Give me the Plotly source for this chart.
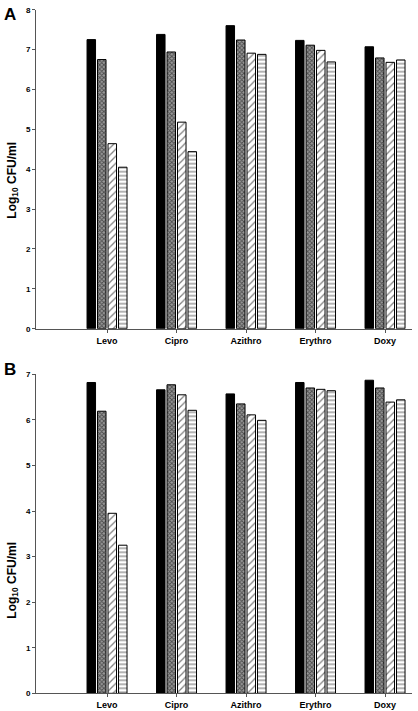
import plotly.graph_objects as go

categories = ["Levo", "Cipro", "Azithro", "Erythro", "Doxy"]
series_names = ["Series 1", "Series 2", "Series 3", "Series 4"]

# Panel A values (Log10 CFU/ml)
a_s1 = [7.25, 7.38, 7.60, 7.23, 7.07]
a_s2 = [6.75, 6.94, 7.24, 7.11, 6.79]
a_s3 = [4.64, 5.18, 6.91, 6.98, 6.68]
a_s4 = [4.05, 4.44, 6.88, 6.69, 6.74]

# Panel B values (Log10 CFU/ml)
b_s1 = [6.82, 6.66, 6.57, 6.82, 6.87]
b_s2 = [6.19, 6.77, 6.35, 6.70, 6.70]
b_s3 = [3.95, 6.55, 6.11, 6.67, 6.39]
b_s4 = [3.25, 6.21, 5.99, 6.64, 6.44]

y_ticks_a = [0, 1, 2, 3, 4, 5, 6, 7, 8]
y_ticks_b = [0, 1, 2, 3, 4, 5, 6, 7]

patterns = [
    None,
    dict(shape="x", size=3, solidity=0.5, fgcolor="black", bgcolor="#999999"),
    dict(shape="/", size=5, solidity=0.25, fgcolor="black", bgcolor="white"),
    dict(shape="-", size=4, solidity=0.3, fgcolor="black", bgcolor="white"),
]
colors = ["black", "#999999", "white", "white"]

fig = go.Figure()
for panel, vals in enumerate([(a_s1, a_s2, a_s3, a_s4), (b_s1, b_s2, b_s3, b_s4)]):
    xax = "x" if panel == 0 else "x2"
    yax = "y" if panel == 0 else "y2"
    for i, v in enumerate(vals):
        marker = dict(color=colors[i], line=dict(color="black", width=1))
        if patterns[i] is not None:
            marker["pattern"] = patterns[i]
        fig.add_trace(go.Bar(
            x=categories, y=v, name=series_names[i],
            xaxis=xax, yaxis=yax, showlegend=False, marker=marker,
        ))

H = 711.0
top_a, bot_a = 9.7, 328.7
top_b, bot_b = 374.3, 693.3
FAM = "Liberation Sans, Arial, sans-serif"

xcommon = dict(type="category", range=[-1.022, 4.388], showline=True, linecolor="#555555",
               linewidth=1, ticks="outside", ticklen=3, tickcolor="#555555",
               tickfont=dict(family=FAM, size=9, color="black", weight="bold"),
               showgrid=False, zeroline=False, fixedrange=True, automargin=False)
ycommon = dict(showline=True, linecolor="#555555", linewidth=1, ticks="outside", ticklen=3,
               tickcolor="#555555", showgrid=False, zeroline=False, automargin=False,
               tickfont=dict(family=FAM, size=8, color="black", weight="bold"))

fig.update_layout(
    width=418, height=711,
    margin=dict(l=36, r=6, t=0, b=0),
    paper_bgcolor="white", plot_bgcolor="white",
    barmode="group", bargap=0.396, bargroupgap=0.19,
    font=dict(family=FAM, size=9, color="black"),
    xaxis=dict(domain=[0, 1], anchor="y", **xcommon),
    yaxis=dict(domain=[(H - bot_a) / H, (H - top_a) / H], anchor="x", range=[0, 8],
               tickvals=y_ticks_a, **ycommon),
    xaxis2=dict(domain=[0, 1], anchor="y2", **xcommon),
    yaxis2=dict(domain=[(H - bot_b) / H, (H - top_b) / H], anchor="x2", range=[0, 7],
                tickvals=y_ticks_b, **ycommon),
    annotations=[
        dict(text="<b>A</b>", xref="paper", yref="paper", x=-0.068, y=(H - 14) / H,
             xanchor="center", yanchor="middle", showarrow=False,
             font=dict(family=FAM, size=17, color="black")),
        dict(text="<b>B</b>", xref="paper", yref="paper", x=-0.068, y=(H - 369) / H,
             xanchor="center", yanchor="middle", showarrow=False,
             font=dict(family=FAM, size=17, color="black")),
        dict(text="<b>Log<sub>10</sub> CFU/ml</b>", xref="paper", yref="paper", x=-0.062,
             y=(H - 180) / H, textangle=-90, xanchor="center", yanchor="middle", showarrow=False,
             font=dict(family=FAM, size=12, color="black")),
        dict(text="<b>Log<sub>10</sub> CFU/ml</b>", xref="paper", yref="paper", x=-0.062,
             y=(H - 580) / H, textangle=-90, xanchor="center", yanchor="middle", showarrow=False,
             font=dict(family=FAM, size=12, color="black")),
    ],
)

fig.write_html(
    "out.html",
    config={"displayModeBar": False},
    post_script="document.body.style.margin='0';document.body.style.overflow='hidden';",
)
